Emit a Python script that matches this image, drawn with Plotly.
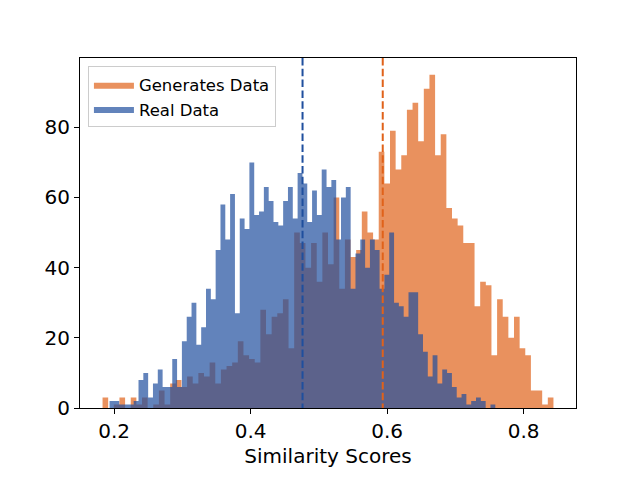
import numpy as np
import plotly.graph_objects as go

# Histogram counts read per bin (80 bins each)
GEN_COUNTS = [3, 0, 1, 3, 0, 3, 1, 3, 0, 1,
              5, 1, 7, 8, 6, 9, 7, 10, 9, 13,
              7, 11, 12, 13, 19, 15, 14, 13, 28, 21,
              26, 27, 31, 17, 50, 47, 40, 47, 36, 50,
              41, 60, 34, 48, 43, 45, 56, 50, 48, 73,
              64, 79, 68, 72, 85, 87, 76, 91, 95, 72,
              78, 57, 54, 52, 47, 47, 29, 36, 35, 15,
              31, 26, 20, 26, 17, 15, 5, 5, 1, 3]
REAL_COUNTS = [2, 2, 1, 1, 1, 2, 8, 10, 3, 7,
               11, 6, 6, 14, 6, 19, 26, 30, 18, 23,
               34, 31, 45, 58, 48, 61, 27, 54, 51, 70,
               55, 56, 63, 59, 53, 52, 59, 63, 54, 67,
               64, 53, 62, 55, 68, 63, 65, 48, 60, 63,
               34, 44, 48, 40, 48, 45, 34, 38, 50, 30,
               29, 26, 33, 33, 21, 16, 9, 15, 7, 11,
               10, 6, 3, 4, 1, 2, 3, 2, 0, 1]
GEN_RANGE = (0.1830, 0.8436)
REAL_RANGE = (0.1933, 0.7584)
GEN_MEAN = 0.5935
REAL_MEAN = 0.476
X_TICKS = [0.2, 0.4, 0.6, 0.8]
Y_TICKS = [0, 20, 40, 60, 80]

COLOR_GEN = (224, 98, 26)
COLOR_REAL = (31, 79, 158)
ALPHA = 0.7
FONT = 'DejaVu Sans'


def rgba(c, a=1.0):
    return f'rgba({c[0]},{c[1]},{c[2]},{a})'


def step_outline(lo, hi, counts):
    # edges plus repeated last count, drawn with hv steps -> one filled polygon
    edges = np.linspace(lo, hi, len(counts) + 1)
    return edges, list(counts) + [counts[-1]]


def build_figure():
    fig = go.Figure()
    for rng, counts, col, name in [(GEN_RANGE, GEN_COUNTS, COLOR_GEN, 'Generates Data'),
                                   (REAL_RANGE, REAL_COUNTS, COLOR_REAL, 'Real Data')]:
        x, y = step_outline(*rng, counts)
        fig.add_trace(go.Scatter(
            x=x, y=y, mode='lines',
            line=dict(shape='hv', width=0, color='rgba(0,0,0,0)'),
            fill='tozeroy', fillcolor=rgba(col, ALPHA), name=name
        ))

    # mean markers
    for xv, col in [(REAL_MEAN, COLOR_REAL), (GEN_MEAN, COLOR_GEN)]:
        fig.add_shape(type='line', x0=xv, x1=xv, y0=1, y1=0,
                      xref='x', yref='paper',
                      line=dict(color=rgba(col), width=2, dash='7.5px,3.3px'))

    lo = min(GEN_RANGE[0], REAL_RANGE[0])
    hi = max(GEN_RANGE[1], REAL_RANGE[1])
    pad = 0.05 * (hi - lo)
    ymax = 1.05 * max(max(GEN_COUNTS), max(REAL_COUNTS))

    axis_style = dict(showline=True, mirror=True, linecolor='black', linewidth=1,
                      ticks='outside', ticklen=5, tickwidth=1, tickcolor='black',
                      showgrid=False, zeroline=False,
                      tickfont=dict(family=FONT, size=20, color='black'))

    # page body has an 8px margin, so the figure is shifted; compensate in margins
    fig.update_layout(
        width=640, height=480,
        plot_bgcolor='white', paper_bgcolor='white',
        margin=dict(l=72, r=72, t=50, b=80),
        font=dict(family=FONT, color='black'),
        xaxis=dict(range=[lo - pad, hi + pad], tickvals=X_TICKS,
                   ticktext=[f'{v:.1f}' for v in X_TICKS],
                   title=dict(text='Similarity Scores', font=dict(family=FONT, size=20),
                              standoff=6),
                   **axis_style),
        yaxis=dict(range=[0, ymax], tickvals=Y_TICKS, **axis_style),
        legend=dict(x=0.016, y=0.976, xanchor='left', yanchor='top',
                    bgcolor='rgba(255,255,255,0.8)', bordercolor='#cccccc', borderwidth=1,
                    font=dict(family=FONT, size=16.5), itemwidth=40,
                    tracegroupgap=0),
        showlegend=True
    )
    return fig


if __name__ == "__main__":
    fig = build_figure()
    fig.write_html("out.html")
